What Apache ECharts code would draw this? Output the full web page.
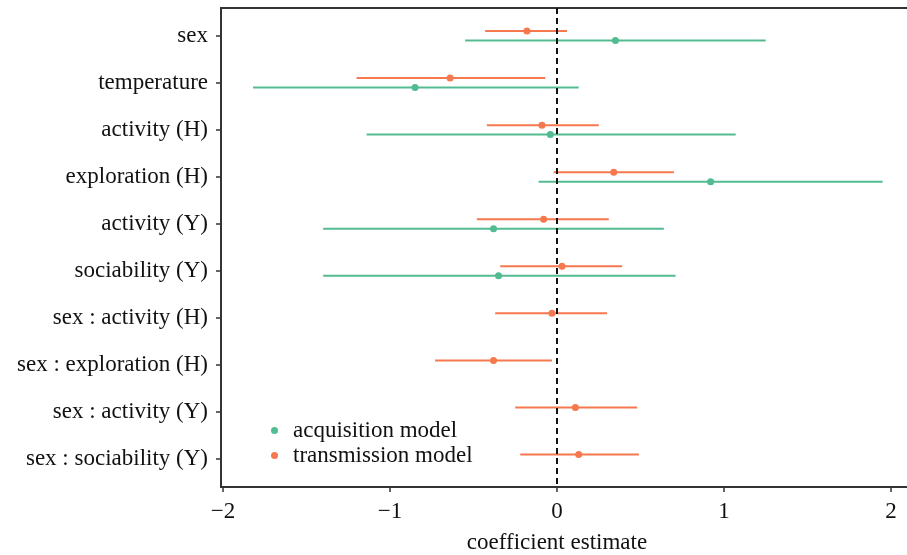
<!DOCTYPE html>
<html>
<head>
<meta charset="utf-8">
<script src="https://cdn.jsdelivr.net/npm/echarts@6/dist/echarts.min.js"></script>
<style>html,body{margin:0;background:#fff}#main{width:907px;height:555px}</style>
</head>
<body>
<div id="main"></div>
<script>
// model terms, top to bottom
var terms = ['sex', 'temperature', 'activity (H)', 'exploration (H)', 'activity (Y)',
  'sociability (Y)', 'sex : activity (H)', 'sex : exploration (H)', 'sex : activity (Y)', 'sex : sociability (Y)'];
// acquisition model (green): estimate and interval
var acqEst  = [0.35, -0.85, -0.04, 0.92, -0.38, -0.35, null, null, null, null];
var acqLow  = [-0.55, -1.82, -1.14, -0.11, -1.40, -1.40, null, null, null, null];
var acqHigh = [1.25, 0.13, 1.07, 1.95, 0.64, 0.71, null, null, null, null];
// transmission model (orange)
var trEst  = [-0.18, -0.64, -0.09, 0.34, -0.08, 0.03, -0.03, -0.38, 0.11, 0.13];
var trLow  = [-0.43, -1.20, -0.42, -0.02, -0.48, -0.34, -0.37, -0.73, -0.25, -0.22];
var trHigh = [0.06, -0.07, 0.25, 0.70, 0.31, 0.39, 0.30, -0.03, 0.48, 0.49];
var xTicks = [-2, -1, 0, 1, 2];

var green = '#52bb91';
var orange = '#f5784e';
var font = 'Liberation Serif';
var fs = 23;

function points(est, off) {
  var out = [];
  est.forEach(function (v, i) { if (v !== null) out.push([v, i + off]); });
  return out;
}
function bars(lo, hi, off) {
  var out = [];
  lo.forEach(function (v, i) { if (v !== null) out.push([v, hi[i], i + off]); });
  return out;
}
function barSeries(name, data, color) {
  return {
    name: name, type: 'custom', data: data, encode: { x: [0, 1], y: 2 },
    renderItem: function (params, api) {
      var y = api.value(2);
      var a = api.coord([api.value(0), y]);
      var b = api.coord([api.value(1), y]);
      return { type: 'line', shape: { x1: a[0], y1: a[1], x2: b[0], y2: b[1] },
        style: { stroke: color, lineWidth: 2 } };
    }
  };
}
var rowTicks = terms.map(function (t, i) { return i; });

var chart = echarts.init(document.getElementById('main'));
chart.setOption({
  animation: false,
  textStyle: { fontFamily: font },
  grid: { left: 221, top: 8, width: 690, height: 479, outerBoundsMode: 'none', containLabel: false,
    show: true, borderColor: '#333', borderWidth: 2 },
  legend: {
    orient: 'vertical', left: 266, top: 414, itemGap: 2,
    icon: 'circle', itemWidth: 7, itemHeight: 7,
    data: ['acquisition model', 'transmission model'],
    textStyle: { fontFamily: font, fontSize: fs, color: '#111', padding: [0, 0, 0, 10] }
  },
  xAxis: {
    type: 'value', min: -2.012, max: 2.12,
    name: 'coefficient estimate', nameLocation: 'middle', nameGap: 44,
    nameTextStyle: { fontFamily: font, fontSize: fs, color: '#111', padding: [0, 18, 0, 0] },
    axisLine: { show: true, onZero: false, lineStyle: { color: '#333', width: 2 } },
    axisTick: { show: true, length: 5, lineStyle: { color: '#333', width: 1.5 }, customValues: xTicks },
    axisLabel: { fontFamily: font, fontSize: fs, color: '#111', margin: 13, customValues: xTicks,
      formatter: function (v) { return String(v).replace('-', '\u2212'); } },
    splitLine: { show: false }
  },
  yAxis: {
    type: 'value', inverse: true, min: -0.59, max: 9.59,
    axisLine: { show: true, onZero: false, lineStyle: { color: '#333', width: 2 } },
    axisTick: { show: true, length: 5, lineStyle: { color: '#333', width: 1.5 }, customValues: rowTicks },
    axisLabel: { fontFamily: font, fontSize: fs, color: '#111', margin: 13, customValues: rowTicks,
      formatter: function (v) { return terms[Math.round(v)]; } },
    splitLine: { show: false }
  },
  series: [
    barSeries('acq ci', bars(acqLow, acqHigh, 0.1), green),
    barSeries('tr ci', bars(trLow, trHigh, -0.1), orange),
    {
      name: 'acquisition model', type: 'scatter', symbolSize: 7, data: points(acqEst, 0.1),
      itemStyle: { color: green, opacity: 1 }, z: 3
    },
    {
      name: 'transmission model', type: 'scatter', symbolSize: 7, data: points(trEst, -0.1),
      itemStyle: { color: orange, opacity: 1 }, z: 3,
      markLine: {
        silent: true, symbol: 'none', label: { show: false },
        lineStyle: { color: '#111', type: [6, 4], width: 2 },
        data: [{ xAxis: 0 }]
      }
    }
  ]
});
</script>
</body>
</html>
